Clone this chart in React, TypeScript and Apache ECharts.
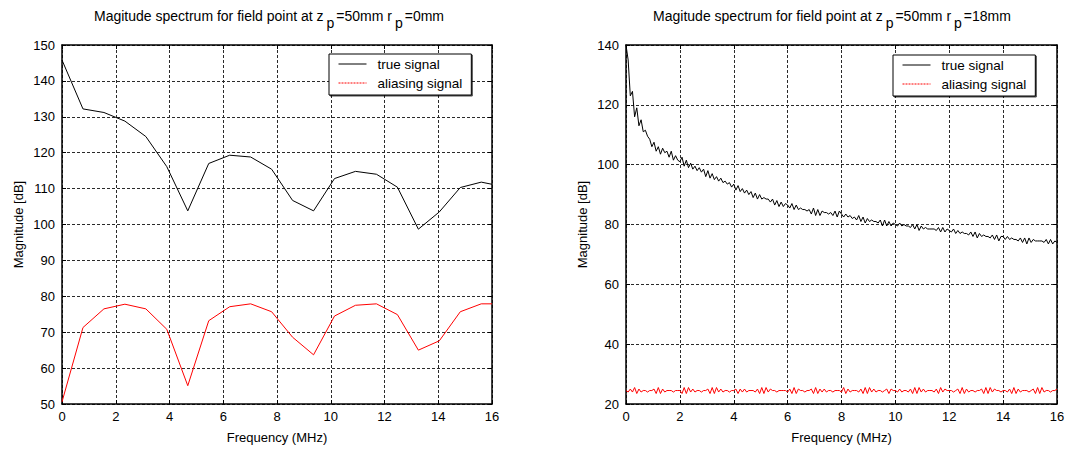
import React, { useEffect, useRef } from "react";
import * as echarts from "echarts";

// ---------- data ----------
const leftFreq = [0, 0.78, 1.56, 2.34, 3.12, 3.9, 4.68, 5.46, 6.24, 7.02, 7.8, 8.58, 9.36, 10.14, 10.92, 11.7, 12.48, 13.26, 14.04, 14.82, 15.6, 16];
const leftTrue = [145.8, 132.2, 131.2, 128.8, 124.5, 116.1, 103.8, 117.0, 119.3, 118.8, 115.4, 106.7, 103.8, 112.8, 114.8, 114.0, 110.4, 98.7, 103.5, 110.3, 111.8, 111.2];
const leftAlias = [50.6, 71.3, 76.5, 77.8, 76.5, 70.8, 55.1, 73.2, 77.1, 77.9, 75.7, 68.6, 63.7, 74.5, 77.5, 77.9, 74.9, 65.0, 67.6, 75.7, 77.9, 77.9];

const rightFreqStep = 0.08; // MHz between samples
const rightTrue = [
  140, 135, 123, 124.5, 116, 119, 113, 115, 111, 111.5, 109.5, 108.5, 106,
  107.5, 104.5, 106, 103.5, 105.5, 104, 104.5, 102.5, 104.5, 101.5, 103, 101.5, 101,
  102.5, 99.5, 101.5, 99, 100.5, 98.5, 99.5, 98, 99, 97.5, 98.5, 96, 98, 95.5, 97, 95, 96, 94.5, 95.5, 94, 94.5, 93.5, 94, 92.5, 93.5,
  91.5, 93, 91, 92, 90.5, 91.5, 90, 91, 89, 90.5, 88.5, 90, 88.5, 89, 88.5, 88.5, 87.5, 88.5, 86.5, 88, 86, 87.5, 86, 87, 86.5,
  85.5, 87, 85, 86.5, 85, 85.5, 85, 85, 84.5, 85, 83.5, 85.5, 83, 85, 83, 84.5, 84, 84, 83.5, 84, 83, 84.5, 82.5, 84.5, 83.5,
  82.5, 83.5, 82.5, 83, 82, 82.5, 81.5, 83, 81, 82.5, 80.5, 82, 81, 81.5, 81, 81, 80.5, 81.5, 79.5, 81.5, 79.5, 81, 79.5, 80.5, 80,
  79.5, 80.5, 79.5, 80, 79.5, 79.5, 79, 80, 78.5, 80, 78, 79.5, 78.5, 79, 78.5, 78.5, 78.5, 78.5, 78, 79, 77.5, 79, 77.5, 78.5, 78,
  77.5, 78.5, 77, 78, 77, 77.5, 77, 77, 76.5, 77.5, 76, 77.5, 75.5, 77, 76, 76.5, 76, 76, 75.5, 76.5, 75, 76.5, 74.5, 76, 76,
  75, 76, 75, 75.5, 75, 75, 74.5, 75.5, 74, 75.5, 73.5, 75.5, 74, 75, 74.5, 74.5, 74.5, 74.5, 74, 75, 73.5, 75, 73.5, 74.5, 74,
];
const rightAlias = [
  24.5, 24, 25, 24, 25.5, 23.5, 25, 24, 24.5, 24.5, 24, 24.5, 24.5, 25, 23.5, 25.5, 23.5, 25, 24, 24.5, 24.5, 24.5, 24, 24.5, 24.5,
  24.5, 23.5, 25.5, 23.5, 25.5, 24, 25, 24, 24.5, 24.5, 24, 24.5, 24.5, 25, 23.5, 25.5, 23.5, 25.5, 24, 25, 24, 24.5, 24.5, 24, 24.5,
  24.5, 25, 23.5, 25, 24, 25, 24, 24.5, 24.5, 24.5, 24, 25, 23.5, 25.5, 23.5, 25.5, 24, 25, 24.5, 24.5, 24, 24.5, 24.5, 24.5, 24.5,
  24, 25, 23.5, 25.5, 23.5, 25, 24.5, 24.5, 24, 24.5, 24.5, 25, 23.5, 25.5, 23.5, 25, 24, 25, 24, 24.5, 24.5, 24, 24.5, 24.5, 24.5,
  24, 25.5, 23.5, 25, 24, 24.5, 24.5, 24.5, 24, 25, 23.5, 25.5, 23.5, 25.5, 24, 25, 24, 24.5, 24.5, 24, 24.5, 25, 23.5, 25, 24.5,
  24.5, 24, 25, 24, 24.5, 24.5, 24, 25, 23.5, 25.5, 23.5, 25.5, 24, 25, 24, 24.5, 24.5, 24.5, 24, 25, 23.5, 25.5, 24, 25, 24.5,
  24.5, 24.5, 24, 24.5, 25, 23.5, 25.5, 23.5, 25, 24, 24.5, 24.5, 24, 24.5, 24.5, 25, 23.5, 25.5, 23.5, 25.5, 24, 25, 24.5, 24.5, 24,
  24.5, 24.5, 24, 25, 23.5, 25.5, 23.5, 25, 24, 24.5, 24.5, 24.5, 24, 24.5, 25, 23.5, 25.5, 23.5, 25.5, 24, 24.5, 24.5, 24, 24.5, 24.5, 25,
];

const xTicks = { min: 0, max: 16, interval: 2 };
const leftY = { min: 50, max: 150, interval: 10 };
const rightY = { min: 20, max: 140, interval: 20 };

const seriesNames = ["true signal", "aliasing signal"];
const titles = [
  { z: "50mm", r: "0mm" },
  { z: "50mm", r: "18mm" },
];
const xName = "Frequency (MHz)";
const yName = "Magnitude [dB]";

// ---------- styling ----------
const FONT = "'Liberation Sans', Arial, Helvetica, sans-serif";
const axisLineStyle = { color: "#000", width: 1.5 };
const gridLineStyle = { color: "#2a2a2a", width: 1, type: [3, 2] as number[] };

function mainXAxis(gridIndex: number) {
  return {
    type: "value",
    gridIndex,
    position: "bottom",
    ...xTicks,
    axisLine: { show: true, onZero: false, lineStyle: axisLineStyle },
    axisTick: { show: true, inside: true, length: 4, lineStyle: { color: "#000" } },
    axisLabel: { color: "#000", fontSize: 13, fontFamily: FONT, margin: 6 },
    splitLine: { show: true, lineStyle: gridLineStyle },
    name: xName,
    nameLocation: "middle",
    nameGap: 27,
    nameTextStyle: { color: "#000", fontSize: 13, fontFamily: FONT },
  };
}
function topXAxis(gridIndex: number) {
  return {
    type: "value",
    gridIndex,
    position: "top",
    ...xTicks,
    axisLine: { show: true, onZero: false, lineStyle: axisLineStyle },
    axisTick: { show: true, inside: true, length: 4, lineStyle: { color: "#000" } },
    axisLabel: { show: false },
    splitLine: { show: false },
  };
}
function mainYAxis(gridIndex: number, range: any) {
  return {
    type: "value",
    gridIndex,
    position: "left",
    ...range,
    axisLine: { show: true, onZero: false, lineStyle: axisLineStyle },
    axisTick: { show: true, inside: true, length: 4, lineStyle: { color: "#000" } },
    axisLabel: { color: "#000", fontSize: 13, fontFamily: FONT, margin: 7 },
    splitLine: { show: true, lineStyle: gridLineStyle },
    name: yName,
    nameLocation: "middle",
    nameGap: 37,
    nameTextStyle: { color: "#000", fontSize: 13, fontFamily: FONT },
  };
}
function rightYAxis(gridIndex: number, range: any) {
  return {
    type: "value",
    gridIndex,
    position: "right",
    ...range,
    axisLine: { show: true, onZero: false, lineStyle: axisLineStyle },
    axisTick: { show: true, inside: true, length: 4, lineStyle: { color: "#000" } },
    axisLabel: { show: false },
    splitLine: { show: false },
  };
}

function legendFor(left: number, top: number) {
  return {
    orient: "vertical",
    left,
    top,
    itemWidth: 28,
    itemHeight: 14,
    itemGap: 5,
    padding: [3, 9, 5, 9],
    borderColor: "#000",
    borderWidth: 1,
    backgroundColor: "#fff",
    shadowColor: "rgba(0,0,0,0.7)",
    shadowOffsetX: 1,
    shadowOffsetY: 1,
    shadowBlur: 0,
    selectedMode: false,
    itemStyle: { opacity: 0, borderWidth: 0 },
    lineStyle: { width: 1 },
    textStyle: { color: "#000", fontSize: 13.5, fontFamily: FONT, padding: [0, 0, 0, 6] },
    data: [
      { name: seriesNames[0], lineStyle: { width: 1 } },
      { name: seriesNames[1], lineStyle: { width: 1, type: [2, 1] } },
    ],
  };
}

function titleText(cx: number, t: { z: string; r: string }) {
  return {
    type: "text",
    x: cx,
    y: 9,
    style: {
      text: `{n|Magitude spectrum for field point at z}{s|p}{n|=${t.z} r}{s|p}{n|=${t.r}}`,
      align: "center",
      verticalAlign: "top",
      fill: "#000",
      font: `14px ${FONT}`,
      rich: {
        n: { fontSize: 14, fontFamily: FONT, lineHeight: 15, verticalAlign: "top", fill: "#000" },
        s: { fontSize: 14, fontFamily: FONT, lineHeight: 15, verticalAlign: "top", padding: [7, 2, 0, 3], fill: "#000" },
      },
    },
  };
}

export default function App() {
  const ref = useRef<HTMLDivElement>(null);

  useEffect(() => {
    if (!ref.current) return;
    const chart = echarts.init(ref.current, undefined, { renderer: "svg" });

    const leftTrueData = leftFreq.map((f, i) => [f, leftTrue[i]]);
    const leftAliasData = leftFreq.map((f, i) => [f, leftAlias[i]]);
    const rightTrueData = rightTrue.map((v, i) => [+(i * rightFreqStep).toFixed(2), v]);
    const rightAliasData = rightAlias.map((v, i) => [+(i * rightFreqStep).toFixed(2), v]);

    const lineSeries = (name: string, data: any, xi: number, yi: number, color: string) => ({
      type: "line",
      name,
      data,
      xAxisIndex: xi,
      yAxisIndex: yi,
      symbol: "none",
      showSymbol: false,
      lineStyle: { color, width: 1 },
      itemStyle: { color },
      z: 5,
    });

    chart.setOption({
      animation: false,
      backgroundColor: "#fff",
      textStyle: { fontFamily: FONT },
      grid: [
        { left: 62, top: 45, width: 430, height: 359 },
        { left: 626, top: 45, width: 431, height: 359 },
      ],
      xAxis: [mainXAxis(0), topXAxis(0), mainXAxis(1), topXAxis(1)],
      yAxis: [mainYAxis(0, leftY), rightYAxis(0, leftY), mainYAxis(1, rightY), rightYAxis(1, rightY)],
      legend: [legendFor(329, 54), legendFor(893, 55)],
      graphic: [titleText(269, titles[0]), titleText(832, titles[1])],
      series: [
        lineSeries(seriesNames[0], leftTrueData, 0, 0, "#000"),
        lineSeries(seriesNames[1], leftAliasData, 0, 0, "#ff0000"),
        lineSeries(seriesNames[0], rightTrueData, 2, 2, "#000"),
        lineSeries(seriesNames[1], rightAliasData, 2, 2, "#ff0000"),
      ],
    });

    return () => chart.dispose();
  }, []);

  return (
    <div
      ref={ref}
      style={{ position: "fixed", left: 0, top: 0, width: 1068, height: 451, background: "#fff" }}
    />
  );
}
